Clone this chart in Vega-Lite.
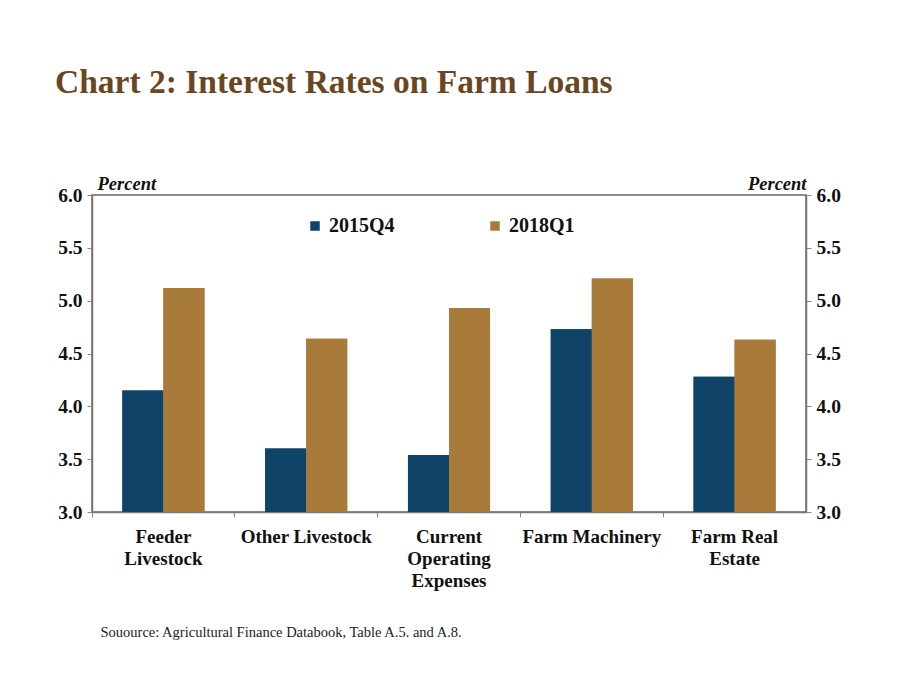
{
  "$schema": "https://vega.github.io/schema/vega-lite/v6.json",
  "autosize": {"type": "none"},
  "width": 714,
  "height": 317,
  "padding": {"left": 92, "top": 195, "right": 92, "bottom": 162},
  "background": "white",
  "config": {
    "font": "Liberation Serif",
    "view": {"stroke": "#666666", "strokeWidth": 1.5},
    "axis": {"labelFont": "Liberation Serif", "titleFont": "Liberation Serif"},
    "legend": {"labelFont": "Liberation Serif"}
  },
  "title": {
    "text": "Chart 2: Interest Rates on Farm Loans",
    "anchor": "start",
    "frame": "group",
    "dx": -37,
    "offset": 74,
    "fontSize": 33.5,
    "fontWeight": "bold",
    "color": "#6b4623",
    "font": "Liberation Serif"
  },
  "data": {
    "values": [
      {"category": "Feeder|Livestock", "period": "2015Q4", "rate": 4.15},
      {"category": "Feeder|Livestock", "period": "2018Q1", "rate": 5.12},
      {"category": "Other Livestock", "period": "2015Q4", "rate": 3.6},
      {"category": "Other Livestock", "period": "2018Q1", "rate": 4.64},
      {"category": "Current|Operating|Expenses", "period": "2015Q4", "rate": 3.54},
      {"category": "Current|Operating|Expenses", "period": "2018Q1", "rate": 4.93},
      {"category": "Farm Machinery", "period": "2015Q4", "rate": 4.73},
      {"category": "Farm Machinery", "period": "2018Q1", "rate": 5.21},
      {"category": "Farm Real|Estate", "period": "2015Q4", "rate": 4.28},
      {"category": "Farm Real|Estate", "period": "2018Q1", "rate": 4.63}
    ]
  },
  "encoding": {
    "x": {
      "field": "category",
      "type": "nominal",
      "sort": null,
      "scale": {"paddingInner": 0, "paddingOuter": 0},
      "axis": {
        "labelExpr": "split(datum.label, '|')",
        "labelAngle": 0,
        "labelFontSize": 19,
        "labelFontWeight": "bold",
        "labelColor": "#111111",
        "labelPadding": 10,
        "labelLineHeight": 22,
        "labelBaseline": "top",
        "bandPosition": 0,
        "ticks": true,
        "tickSize": 5,
        "tickColor": "#888888",
        "domainColor": "#777777",
        "domainWidth": 1.5,
        "title": "Souource: Agricultural Finance Databook, Table A.5. and A.8.",
        "titleFontSize": 14.5,
        "titleFontWeight": "normal",
        "titleColor": "#222222",
        "titleAlign": "left",
        "titleX": 8,
        "titleY": 120,
        "titleBaseline": "middle"
      }
    },
    "xOffset": {
      "field": "period",
      "type": "nominal",
      "scale": {"paddingInner": 0, "paddingOuter": 0.74}
    },
    "y": {
      "field": "rate",
      "type": "quantitative",
      "scale": {"domain": [3, 6], "zero": false, "nice": false}
    },
    "y2": {"datum": 3},
    "color": {
      "field": "period",
      "type": "nominal",
      "scale": {"domain": ["2015Q4", "2018Q1"], "range": ["#0f4468", "#a87b3a"]},
      "legend": {
        "title": null,
        "orient": "none",
        "direction": "horizontal",
        "legendX": 213,
        "legendY": 21,
        "symbolType": "square",
        "symbolSize": 90,
        "symbolStrokeWidth": 0,
        "labelFontSize": 20,
        "labelFontWeight": "bold",
        "labelColor": "#111111",
        "columnPadding": 90,
        "labelOffset": 4
      }
    }
  },
  "layer": [
    {
      "mark": {"type": "bar"},
      "encoding": {
        "y": {
          "field": "rate",
          "type": "quantitative",
          "scale": {"domain": [3, 6], "zero": false, "nice": false},
          "axis": {
            "orient": "left",
            "values": [3, 3.5, 4, 4.5, 5, 5.5, 6],
            "format": ".1f",
            "grid": false,
            "labelFontSize": 19.5,
            "labelFontWeight": "bold",
            "labelColor": "#111111",
            "labelPadding": 5,
            "tickSize": 5,
            "tickColor": "#888888",
            "domainColor": "#777777",
            "domainWidth": 1.5,
            "title": "Percent",
            "titleAngle": 0,
            "titleAlign": "left",
            "titleX": 5,
            "titleY": -12,
            "titleBaseline": "middle",
            "titleFontSize": 18.5,
            "titleFontStyle": "italic",
            "titleFontWeight": "bold",
            "titleColor": "#111111"
          }
        }
      }
    },
    {
      "mark": {"type": "bar"},
      "encoding": {
        "y": {
          "field": "rate",
          "type": "quantitative",
          "scale": {"domain": [3, 6], "zero": false, "nice": false},
          "axis": {
            "orient": "right",
            "values": [3, 3.5, 4, 4.5, 5, 5.5, 6],
            "format": ".1f",
            "grid": false,
            "labelFontSize": 19.5,
            "labelFontWeight": "bold",
            "labelColor": "#111111",
            "labelPadding": 5,
            "tickSize": 5,
            "tickColor": "#888888",
            "domainColor": "#777777",
            "domainWidth": 1.5,
            "title": "Percent",
            "titleAngle": 0,
            "titleAlign": "right",
            "titleX": 0,
            "titleY": -12,
            "titleBaseline": "middle",
            "titleFontSize": 18.5,
            "titleFontStyle": "italic",
            "titleFontWeight": "bold",
            "titleColor": "#111111"
          }
        }
      }
    }
  ],
  "resolve": {"axis": {"y": "independent"}, "scale": {"y": "shared"}}
}
